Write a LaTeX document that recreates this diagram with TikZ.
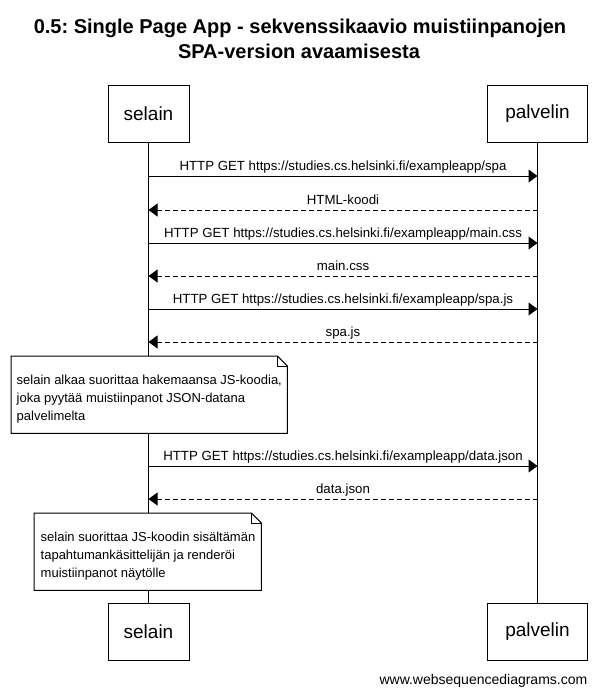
\documentclass[tikz,border=0pt]{standalone}
\usepackage{fontspec}
\setmainfont{Liberation Sans}
\usetikzlibrary{arrows.meta}
\frenchspacing
\tikzset{
  actor/.style={draw, line width=1pt, fill=white, minimum height=57pt, inner sep=0pt, font=\fontsize{19}{22}\selectfont},
  msgtext/.style={anchor=base, inner sep=0pt, font=\fontsize{13.25}{15}\selectfont},
  notetext/.style={anchor=base west, inner sep=0pt, font=\fontsize{13}{15}\selectfont},
  notebox/.style={fill=white, inner sep=0pt, anchor=north west},
  req/.style={line width=1pt, -{Triangle[length=9pt,width=13pt]}},
  resp/.style={line width=1pt, dash pattern=on 5pt off 3pt, -{Triangle[length=9pt,width=13pt]}},
  title/.style={anchor=base, inner sep=0pt, font=\bfseries\fontsize{20}{24}\selectfont}
}
\begin{document}
\begin{tikzpicture}[x=1pt,y=-1pt]
\useasboundingbox (0,0) rectangle (597,694);
\fill[white] (0,0) rectangle (597,694);

% title
\node[title] (t1) at (300,33) {0.5: Single Page App - sekvenssikaavio muistiinpanojen};
\node[title] (t2) at (299,58) {SPA-version avaamisesta};

% participants
\node[actor, minimum width=81pt] (sT) at (148.5,113.5) {selain};
\node[actor, minimum width=100pt] (pT) at (537.5,113.5) {palvelin};
\node[actor, minimum width=81pt] (sB) at (148.5,631.5) {selain};
\node[actor, minimum width=100pt] (pB) at (537.5,631.5) {palvelin};

% lifelines
\draw[line width=1pt] (sT.south) -- (sB.north);
\draw[line width=1pt] (pT.south) -- (pB.north);

% message anchor points
\foreach \i/\y in {1/176,2/210,3/243,4/276,5/309,6/342,7/466,8/499}{
  \coordinate (s\i) at (148.5,\y);
  \coordinate (p\i) at (537.5,\y);
}

\draw[req] (s1) -- (p1);
\node[msgtext] (m1) at (343,170) {HTTP GET https://studies.cs.helsinki.fi/exampleapp/spa};
\draw[resp] (p2) -- (s2);
\node[msgtext] (m2) at (343,204) {HTML-koodi};
\draw[req] (s3) -- (p3);
\node[msgtext] (m3) at (343,237) {HTTP GET https://studies.cs.helsinki.fi/exampleapp/main.css};
\draw[resp] (p4) -- (s4);
\node[msgtext] (m4) at (343,270) {main.css};
\draw[req] (s5) -- (p5);
\node[msgtext] (m5) at (343,303) {HTTP GET https://studies.cs.helsinki.fi/exampleapp/spa.js};
\draw[resp] (p6) -- (s6);
\node[msgtext] (m6) at (343,336) {spa.js};

% note 1
\node[notebox, minimum width=276pt, minimum height=77pt] (n1) at (11,356) {};
\draw[line width=1pt] (n1.north west) -- ([xshift=-10pt]n1.north east) -- ([yshift=-10pt]n1.north east) -- (n1.south east) -- (n1.south west) -- cycle;
\draw[line width=0.6pt] ([xshift=-10pt]n1.north east) -- ([xshift=-10pt,yshift=-10pt]n1.north east) -- ([yshift=-10pt]n1.north east);
\node[notetext] (n1a) at (16.5,384) {selain alkaa suorittaa hakemaansa JS-koodia,};
\node[notetext] (n1b) at (16.5,402) {joka pyytää muistiinpanot JSON-datana};
\node[notetext] (n1c) at (16.5,420) {palvelimelta};

\draw[req] (s7) -- (p7);
\node[msgtext] (m7) at (343,460) {HTTP GET https://studies.cs.helsinki.fi/exampleapp/data.json};
\draw[resp] (p8) -- (s8);
\node[msgtext] (m8) at (343,493) {data.json};

% note 2
\node[notebox, minimum width=227pt, minimum height=77pt] (n2) at (34,513) {};
\draw[line width=1pt] (n2.north west) -- ([xshift=-10pt]n2.north east) -- ([yshift=-10pt]n2.north east) -- (n2.south east) -- (n2.south west) -- cycle;
\draw[line width=0.6pt] ([xshift=-10pt]n2.north east) -- ([xshift=-10pt,yshift=-10pt]n2.north east) -- ([yshift=-10pt]n2.north east);
\node[notetext] (n2a) at (40.5,541) {selain suorittaa JS-koodin sisältämän};
\node[notetext] (n2b) at (40.5,559) {tapahtumankäsittelijän ja renderöi};
\node[notetext] (n2c) at (40.5,577) {muistiinpanot näytölle};

% footer
\node[anchor=base east, inner sep=0pt, font=\fontsize{14}{16}\selectfont] (foot) at (587.5,684) {www.websequencediagrams.com};
\end{tikzpicture}
\end{document}
